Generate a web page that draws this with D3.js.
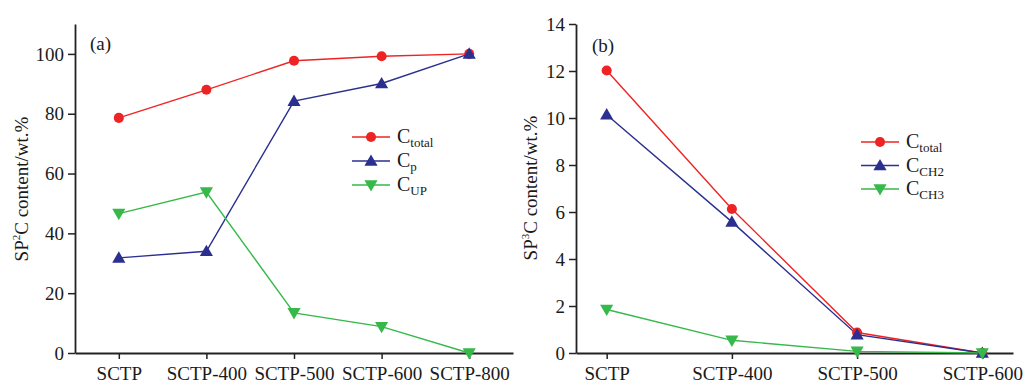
<!DOCTYPE html>
<html><head><meta charset="utf-8">
<script src="https://cdn.jsdelivr.net/npm/d3@7"></script>
<style>
body{margin:0;background:#fff;}
text{font-family:"Liberation Serif","Times New Roman",serif;fill:#1a1a1a;}
</style></head>
<body><svg id="c" width="1029" height="386"></svg>
<script>
// Panel (a)
const catsA = ["SCTP","SCTP-400","SCTP-500","SCTP-600","SCTP-800"];
const aTotal = [78.6, 88.0, 97.7, 99.2, 100];
const aP = [31.8, 34.0, 84.2, 90.1, 100];
const aUP = [46.6, 53.8, 13.4, 8.8, 0];
const ticksA = [0,20,40,60,80,100];
// Panel (b)
const catsB = ["SCTP","SCTP-400","SCTP-500","SCTP-600"];
const bTotal = [12.02, 6.13, 0.87, 0];
const bCH2 = [10.14, 5.58, 0.78, 0];
const bCH3 = [1.85, 0.54, 0.07, 0];
const ticksB = [0,2,4,6,8,10,12,14];

const RED="#ee2424", BLUE="#2b2f8f", GREEN="#36b84a", AX="#222";
const svg = d3.select("#c");

function panel(opt){
  const g = svg.append("g");
  const x = d3.scalePoint().domain(opt.cats).range([opt.x0,opt.x1]).padding(opt.pad);
  const y = d3.scaleLinear().domain(opt.ydom).range([opt.y0,opt.y1]);
  const xa = g.append("g").attr("transform",`translate(0,${opt.y0})`)
    .call(d3.axisBottom(x).tickSize(6).tickSizeOuter(0).tickPadding(8));
  const ya = g.append("g").attr("transform",`translate(${opt.x0},0)`)
    .call(d3.axisLeft(y).tickValues(opt.ticks).tickSize(7).tickSizeOuter(0).tickPadding(4));
  [xa,ya].forEach(a=>{
    a.select(".domain").attr("stroke",AX).attr("stroke-width",1.8);
    a.selectAll(".tick line").attr("stroke",AX).attr("stroke-width",1.5);
    a.selectAll(".tick text").attr("font-size",19).attr("fill","#1a1a1a")
      .style("font-family","'Liberation Serif',serif");
  });
  opt.series.forEach(s=>{
    const line = d3.line().x((d,i)=>x(opt.cats[i])).y(d=>y(d));
    g.append("path").datum(s.v).attr("d",line).attr("fill","none")
      .attr("stroke",s.c).attr("stroke-width",1.4);
  });
  opt.series.forEach(s=>{
    const sym = d3.symbol().type(s.m==="o"?d3.symbolCircle:d3.symbolTriangle).size(s.m==="o"?80:75);
    g.selectAll(null).data(s.v).enter().append("path")
      .attr("d",sym)
      .attr("transform",(d,i)=>`translate(${x(opt.cats[i])},${y(d)+(s.m==="v"?-1:(s.m==="^"?1:0))})${s.m==="v"?" rotate(180)":""}`)
      .attr("fill",s.c);
  });
  // y label
  const lab = g.append("text").attr("transform",`translate(${opt.lx},${opt.ly}) rotate(-90)`)
    .attr("text-anchor","middle").attr("font-size",19);
  lab.append("tspan").text("SP");
  lab.append("tspan").text(opt.sup).attr("font-size",11).attr("dy",-8);
  lab.append("tspan").text("C content/wt.%").attr("dy",8);
  // panel tag
  g.append("text").attr("x",opt.tx).attr("y",opt.ty).attr("font-size",19).text(opt.tag);
  // legend
  opt.series.forEach((s,i)=>{
    const yy = opt.legY + i*opt.legDy;
    g.append("line").attr("x1",opt.legX).attr("x2",opt.legX+38).attr("y1",yy).attr("y2",yy)
      .attr("stroke",s.c).attr("stroke-width",1.4);
    const sym = d3.symbol().type(s.m==="o"?d3.symbolCircle:d3.symbolTriangle).size(s.m==="o"?80:75);
    g.append("path").attr("d",sym)
      .attr("transform",`translate(${opt.legX+19},${yy+(s.m==="v"?-1:(s.m==="^"?1:0))})${s.m==="v"?" rotate(180)":""}`)
      .attr("fill",s.c);
    const t = g.append("text").attr("x",opt.legX+45).attr("y",yy+6).attr("font-size",20);
    t.append("tspan").text("C");
    t.append("tspan").text(s.sub).attr("font-size",13).attr("dy",4);
  });
}

panel({cats:catsA, x0:75, x1:513, pad:0.5, ydom:[0,110], y0:353, y1:24, ticks:ticksA,
  series:[{v:aTotal,c:RED,m:"o",sub:"total"},{v:aP,c:BLUE,m:"^",sub:"p"},{v:aUP,c:GREEN,m:"v",sub:"UP"}],
  lx:28, ly:189, sup:"2", tag:"(a)", tx:90, ty:50, legX:352, legY:137, legDy:24});
panel({cats:catsB, x0:576, x1:1013, pad:0.245, ydom:[0,14], y0:353, y1:24, ticks:ticksB,
  series:[{v:bTotal,c:RED,m:"o",sub:"total"},{v:bCH2,c:BLUE,m:"^",sub:"CH2"},{v:bCH3,c:GREEN,m:"v",sub:"CH3"}],
  lx:537, ly:188, sup:"3", tag:"(b)", tx:592, ty:52, legX:861, legY:142, legDy:23.5});
</script></body></html>
